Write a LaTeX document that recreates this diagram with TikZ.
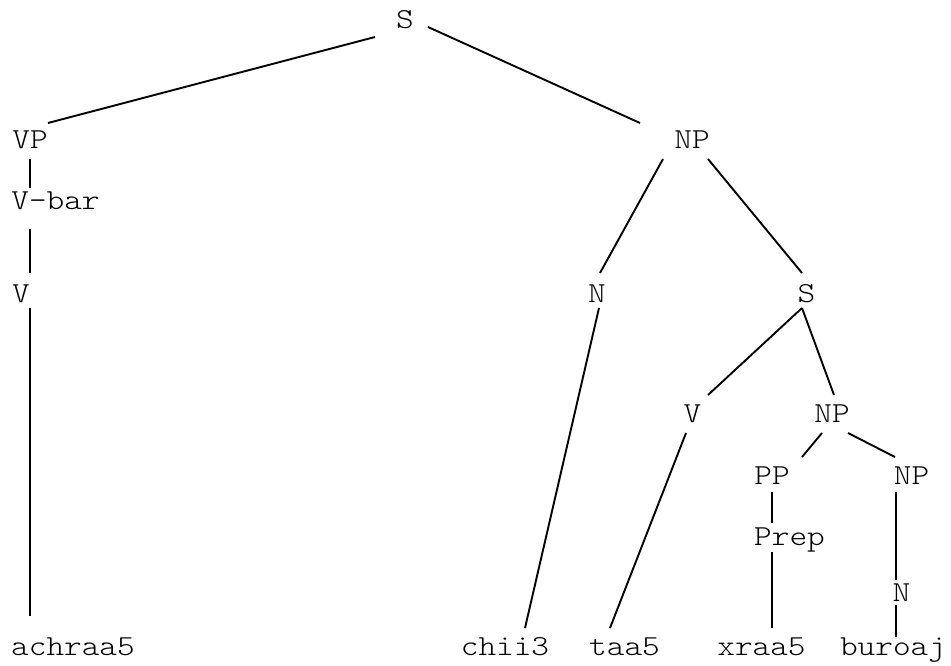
\documentclass[tikz,border=0pt]{standalone}
\usepackage{fontspec}
\newfontfamily\treefont[FakeStretch=1.16]{Latin Modern Mono Light}
\usetikzlibrary{calc}

% draw a branch between two labels, each end given as an offset from the label's base point
\newcommand{\branch}[6]{\draw[edge] ($(#1.base)+(#2,#3)$) -- ($(#4.base)+(#5,#6)$);}

\begin{document}
\begin{tikzpicture}[x=1pt,y=-1pt,
  lbl/.style={anchor=base,inner sep=0pt,font=\treefont\fontsize{29}{30}\selectfont},
  edge/.style={draw=black,line width=1.9pt}]
\useasboundingbox (0,0) rectangle (951,666);

% labels
\node[lbl] (s0)   at (405,29)    {S};
\node[lbl] (vp)   at (30,149)    {VP};
\node[lbl] (np0)  at (692,149)   {NP};
\node[lbl] (vbar) at (55.5,209)  {V-bar};
\node[lbl] (v0)   at (21,302)    {V};
\node[lbl] (n0)   at (597,302)   {N};
\node[lbl] (s1)   at (806.5,302) {S};
\node[lbl] (v1)   at (692.5,422) {V};
\node[lbl] (np1)  at (832,422)   {NP};
\node[lbl] (pp)   at (772,484)   {PP};
\node[lbl] (np2)  at (911.5,484) {NP};
\node[lbl] (prep) at (789.5,545) {Prep};
\node[lbl] (n1)   at (901.5,601) {N};
\node[lbl] (w1)   at (73,655)    {achraa5};
\node[lbl] (w2)   at (505,655)   {chii3};
\node[lbl] (w3)   at (624.5,655) {taa5};
\node[lbl] (w4)   at (761.5,655) {xraa5};
\node[lbl] (w5)   at (893,655)   {buroaj};

% branches
\branch{s0}{-30}{8}{vp}{18}{-26}
\branch{s0}{23}{-2}{np0}{-52}{-26}
\branch{vp}{0}{10}{vbar}{-25.5}{-21}
\branch{vbar}{-25.5}{20}{v0}{9}{-29}
\branch{v0}{9}{6}{w1}{-43}{-39}
\branch{np0}{-29}{10}{n0}{3}{-29}
\branch{np0}{16}{10}{s1}{-4.5}{-29}
\branch{n0}{2}{6}{w2}{20}{-27}
\branch{s1}{-4.5}{6}{v1}{15.5}{-27}
\branch{s1}{-4.5}{6}{np1}{2}{-27}
\branch{v1}{-6.5}{11}{w3}{-14.5}{-27}
\branch{np1}{-10}{11}{pp}{30}{-27}
\branch{np1}{16}{11}{np2}{-16.5}{-27}
\branch{pp}{0}{8}{prep}{-17.5}{-22}
\branch{prep}{-17.5}{7}{w4}{10.5}{-27}
\branch{np2}{-15.5}{8}{n1}{-5.5}{-21}
\branch{n1}{-5.5}{4}{w5}{3}{-18}
\end{tikzpicture}
\end{document}
